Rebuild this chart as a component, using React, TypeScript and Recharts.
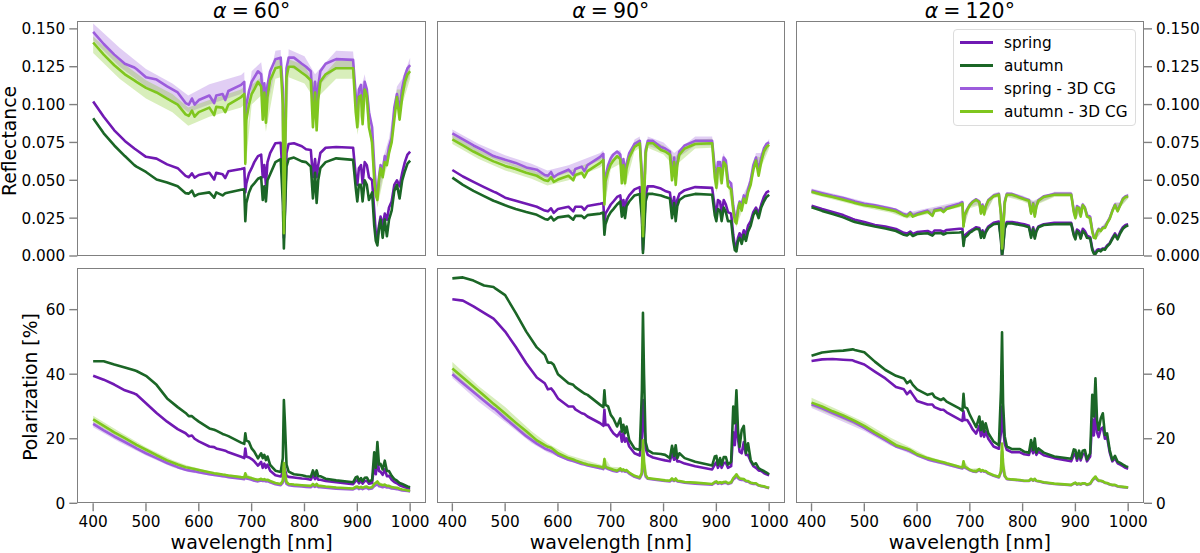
import React from "react";
import { ComposedChart, Line, Area, XAxis, YAxis, Legend } from "recharts";

const wavelengths = [
400,420,440,460,478,482,500,520,540,560,
575,581,587,592,600,620,629,633,645,650,
656,680,686,688,690,695,700,705,712,718,
721,724,727,730,735,745,755,759,761,763,
766,770,780,795,803,812,816,820,823,826,
830,840,860,892,897,900,903,907,910,914,
918,922,928,932,935,938,941,944,948,952,
956,960,965,970,975,980,985,990,995,1000];

const bandWavelengths = [400,450,500,550,580,620,680,686,688,700,718,727,745,755,761,770,800,820,860,892,900,914,924,932,938,950,960,975,985,1000];

// Reflectance, alpha = 60
const r60Spring = [
.102,.092,.083,.076,.071,.070,.0655,.0643,.0605,.058,
.0529,.052,.0546,.0518,.0535,.055,.0505,.055,.054,.0515,
.056,.0575,.058,.042,.048,.0546,.058,.062,.066,.067,
.052,.060,.047,.062,.068,.0745,.0748,.05,.012,.03,
.068,.074,.0745,.0725,.0705,.070,.052,.064,.052,.060,
.068,.0715,.072,.0715,.053,.047,.058,.06,.048,.062,
.06,.052,.05,.03,.015,.012,.02,.026,.02,.028,
.024,.032,.036,.047,.05,.046,.055,.062,.067,.069];
const r60Autumn = [
.091,.081,.073,.066,.060,.059,.0555,.0505,.0485,.046,
.0415,.0412,.0432,.0395,.041,.042,.0385,.042,.040,.0415,
.042,.0438,.044,.023,.035,.042,.046,.048,.051,.052,
.037,.046,.036,.05,.054,.062,.064,.035,.005,.028,
.059,.064,.065,.0625,.062,.059,.038,.055,.035,.05,
.058,.062,.0645,.0635,.045,.036,.047,.047,.036,.05,
.047,.037,.042,.02,.010,.007,.018,.024,.012,.024,
.013,.024,.03,.043,.047,.038,.05,.056,.061,.063];
const r60SpringCg = [
.148,.140,.133,.127,.1245,.1235,.118,.1165,.112,.108,
.101,.100,.104,.100,.103,.106,.101,.106,.107,.103,
.109,.113,.115,.085,.100,.109,.115,.118,.122,.120,
.106,.114,.100,.113,.122,.130,.131,.11,.03,.07,
.124,.131,.131,.127,.125,.122,.10,.115,.098,.112,
.122,.127,.130,.1295,.106,.096,.11,.113,.097,.115,
.11,.095,.085,.06,.045,.04,.052,.06,.056,.066,
.063,.072,.078,.098,.107,.096,.111,.119,.124,.126];
const r60AutumnCg = [
.141,.133,.126,.120,.116,.115,.111,.108,.104,.100,
.0935,.0925,.096,.092,.095,.098,.093,.0985,.098,.095,
.100,.105,.107,.061,.09,.100,.107,.110,.115,.112,
.09,.108,.088,.105,.116,.124,.125,.10,.015,.06,
.118,.125,.125,.121,.119,.116,.085,.108,.083,.103,
.115,.120,.124,.124,.095,.085,.105,.106,.087,.11,
.106,.085,.075,.05,.04,.037,.05,.058,.052,.062,
.06,.068,.075,.09,.105,.09,.105,.115,.120,.122];

// Reflectance, alpha = 90
const r90Spring = [
.0568,.0525,.0490,.0455,.0425,.042,.0385,.0365,.0345,.0325,
.030,.0295,.0315,.0285,.031,.0325,.0295,.0325,.0325,.0305,
.033,.0345,.035,.021,.028,.031,.034,.036,.039,.040,
.032,.037,.030,.037,.040,.044,.0455,.03,.004,.018,
.040,.046,.046,.0445,.043,.042,.031,.039,.030,.037,
.041,.0435,.0455,.045,.032,.028,.037,.036,.028,.037,
.034,.029,.028,.014,.007,.006,.012,.015,.012,.017,
.014,.02,.023,.029,.032,.028,.034,.039,.042,.043];
const r90Autumn = [
.0518,.047,.043,.0395,.0365,.036,.0335,.031,.029,.0272,
.0245,.024,.026,.0235,.0255,.0265,.024,.0265,.0265,.025,
.027,.028,.0287,.014,.021,.026,.029,.031,.034,.036,
.026,.032,.025,.033,.036,.040,.041,.025,.002,.014,
.036,.041,.041,.040,.039,.038,.025,.035,.023,.033,
.037,.0395,.041,.0405,.027,.023,.031,.03,.023,.032,
.029,.023,.023,.01,.004,.003,.01,.012,.008,.014,
.010,.016,.02,.027,.03,.025,.032,.036,.039,.0405];
const r90SpringCg = [
.081,.077,.073,.0695,.066,.0655,.0635,.0615,.0585,.057,
.0535,.053,.0555,.052,.054,.057,.0535,.0575,.059,.056,
.060,.0655,.0675,.038,.052,.060,.0645,.067,.069,.067,
.055,.064,.054,.061,.068,.074,.076,.055,.02,.04,
.070,.076,.076,.072,.071,.069,.055,.065,.052,.062,
.069,.073,.076,.076,.058,.050,.062,.062,.052,.065,
.063,.05,.048,.033,.026,.024,.032,.036,.034,.04,
.038,.044,.05,.06,.065,.057,.065,.071,.074,.075];
const r90AutumnCg = [
.077,.073,.069,.0655,.0625,.062,.0595,.0575,.055,.053,
.050,.0495,.052,.049,.0505,.053,.050,.0535,.055,.052,
.056,.0615,.0635,.034,.049,.056,.0605,.063,.066,.064,
.048,.060,.048,.058,.065,.072,.0745,.05,.013,.035,
.068,.0745,.0745,.070,.069,.067,.05,.062,.047,.06,
.067,.071,.074,.0745,.052,.045,.058,.058,.048,.062,
.06,.046,.044,.03,.023,.0215,.03,.035,.03,.038,
.035,.042,.047,.057,.063,.053,.062,.069,.072,.0735];

// Reflectance, alpha = 120
const r120Spring = [
.0332,.031,.029,.027,.0245,.024,.0225,.0205,.0195,.0178,
.0153,.0148,.0162,.0145,.0158,.0165,.015,.0168,.0168,.016,
.0172,.018,.018,.0085,.0135,.015,.0165,.0175,.019,.0185,
.0135,.017,.0135,.0165,.0195,.022,.0228,.012,.0005,.006,
.019,.0225,.0225,.0215,.021,.020,.0135,.019,.0125,.017,
.0195,.021,.022,.022,.0145,.012,.0175,.0165,.0125,.018,
.0165,.0135,.0125,.005,.0025,.002,.004,.0045,.004,.005,
.005,.007,.0085,.012,.015,.012,.016,.019,.0205,.021];
const r120Autumn = [
.0322,.0298,.0278,.0255,.023,.0225,.021,.0195,.0182,.0165,
.014,.0135,.015,.0132,.0145,.015,.0135,.015,.0152,.0142,
.0152,.0155,.0158,.0066,.012,.0135,.0155,.0165,.018,.0175,
.012,.016,.012,.0155,.0185,.021,.0215,.01,.0,.005,
.018,.0215,.0215,.0205,.02,.019,.012,.018,.0115,.016,
.019,.0205,.021,.0212,.0135,.011,.0165,.015,.0115,.0165,
.015,.012,.0115,.004,.0015,.0013,.003,.0038,.003,.0045,
.0042,.0062,.008,.0112,.014,.011,.015,.018,.0195,.0203];
const r120SpringCg = [
.0432,.0415,.0398,.0383,.0365,.036,.0345,.0335,.032,.0305,
.0275,.027,.029,.0268,.028,.030,.027,.0305,.0315,.030,
.032,.0345,.0355,.02,.027,.031,.034,.036,.0375,.036,
.029,.034,.0285,.033,.037,.040,.041,.028,.006,.017,
.036,.041,.041,.039,.038,.037,.029,.035,.027,.033,
.037,.0395,.041,.041,.03,.026,.033,.032,.027,.034,
.032,.027,.026,.017,.0125,.012,.016,.018,.017,.019,
.019,.022,.025,.03,.034,.03,.034,.038,.0395,.04];
const r120AutumnCg = [
.0424,.0405,.039,.0372,.0355,.035,.0335,.0325,.031,.0295,
.0268,.0262,.0282,.026,.0272,.0292,.0265,.0298,.0305,.029,
.031,.0335,.0345,.0194,.0265,.0305,.0335,.0355,.037,.0355,
.028,.033,.0275,.0325,.0365,.0395,.0405,.027,.005,.016,
.035,.0405,.0405,.0385,.0375,.0365,.028,.0345,.026,.0325,
.0365,.039,.0405,.0405,.029,.025,.032,.0315,.026,.0335,
.0315,.026,.025,.016,.012,.0117,.0155,.0175,.0165,.0185,
.0185,.0215,.0245,.0295,.0335,.0295,.0335,.0375,.039,.0392];

// Polarization, alpha = 60
const p60Spring = [
39.5,38.3,36.8,35,34,33.7,31,28,25.3,23,
21.7,20.8,21,20,19.2,17.6,17.4,17,16.5,16.3,
15.8,14.4,14,17,14.5,14.2,13.7,13,11.7,12.8,
11,12.3,11,12,10.1,8.7,8.3,9.5,12,10.5,
8.5,8.2,8,7.7,7.6,7.3,8.8,7.5,8.3,7.3,
7.3,6.9,6.5,5.9,6.9,7.2,6.2,6.9,6.1,6.9,
7,6.1,6.3,12,9,14,10,9.8,8.8,10.5,
8.4,8.5,7.3,6.6,6.2,5.6,5.3,5,4.6,4.5];
const p60Autumn = [
44,44,43,42.1,41.2,41,39.5,36.7,32.5,29.8,
28,27,27,26.3,25.3,23.2,22.8,22.5,21.5,21.2,
20.8,18.8,18.4,21.7,19.5,19,17,16,13.9,15.5,
14,15,13.4,14.5,11.9,10.1,9.7,14,32,25,
12,9.8,9,8.7,8.4,8.2,10.2,8.5,10.2,8.4,
8.4,7.6,7.1,6.5,8,8.3,6.9,7.8,6.8,7.9,
8,6.8,7.2,15.8,11,19,12,12.2,10.5,13.2,
10,10,8.5,7.5,7,6.3,6,5.6,5.2,5];
const p60SpringCg = [
24.6,22.6,20.7,19,17.4,17,15.5,14,12.5,11.2,
10.4,10.2,10,9.9,9.6,9,8.8,8.7,8.4,8.3,
8.1,7.6,7.5,8.7,7.7,7.5,7.3,7,6.8,7.1,
6.9,7,6.8,6.9,6.5,5.9,5.6,6.4,9,7.5,
6,5.6,5.4,5.2,5.1,5,5.5,5.1,5.5,5,
5,4.8,4.5,4.3,4.7,4.8,4.4,4.7,4.4,4.7,
4.8,4.4,4.6,5.3,5.6,5.9,5.3,5.2,5,5.2,
4.9,4.9,4.6,4.5,4.4,4.2,4,3.9,3.8,3.7];
const p60AutumnCg = [
26,24,22,20.2,18.5,18.1,16.6,14.9,13.3,12,
11.2,11,10.8,10.6,10.3,9.6,9.3,9.2,8.9,8.8,
8.6,8.1,8,9.3,8.2,8,7.8,7.5,7.2,7.6,
7.3,7.5,7.2,7.3,6.9,6.3,6,7,12.5,9.5,
6.6,6,5.8,5.6,5.5,5.4,6,5.5,6,5.4,
5.4,5.2,4.9,4.6,5.1,5.2,4.8,5.1,4.8,5.1,
5.2,4.8,5,6,6.3,6.8,6,5.8,5.6,5.8,
5.4,5.4,5,4.9,4.8,4.5,4.3,4.2,4,3.9];

// Polarization, alpha = 90
const p90Spring = [
63.2,62.8,61,59,57.2,56.5,53.2,48.5,43.4,39,
37.2,35.3,35.6,34.6,32.5,30,30,29.1,27.9,27.7,
26.9,24.8,24,29,24.3,24.3,22.9,21.7,20.7,22.2,
19.1,21.7,19.1,20.1,17.6,15.5,14.8,20.7,32,26,
17,15,14.2,13.6,13.3,13,15.5,13.5,14.8,13,
13,12.3,11.5,10.5,12,12.7,11,12.4,11,12.5,
12.6,11,11.5,22,18,26,20,16,15.5,19,
15,15,13,11.5,11,10.2,10,9.4,9,8.7];
const p90Autumn = [
69.7,70,69,67.5,67,66.5,64.5,59,53.2,48.3,
46,43.6,43.6,42.9,40,37.2,36.7,36,34.6,34,
33.6,30.5,29.8,35,30.5,30,27.4,26.3,23.8,26.3,
22.2,24.3,21.7,23.8,19.6,17,16.5,35,59,40,
19,16.5,15.5,15.3,15,14,17.8,14.7,18,14,
15.5,14,12.9,11.7,14.5,14.7,11.9,14,11.9,14.3,
14.3,12,12.9,30,24.8,35,22.7,17.5,22.7,24,
15.5,18.6,13.4,12,12.4,10.9,10.4,10,9.5,9];
const p90SpringCg = [
40,37.2,34.5,31.8,29.4,29,26.3,23.6,20.8,18.5,
17,16.6,16.2,15.8,14.9,13.5,13.1,12.9,12.2,12,
11.7,10.9,10.6,12.5,11,10.6,10.3,10,9.8,10.3,
9.9,10.1,9.8,10,9.2,8.2,7.7,9,15,11,
8.3,7.6,7.4,7.1,6.9,6.8,7.3,6.9,7.3,6.8,
6.7,6.4,6.1,5.8,6.3,6.5,6,6.3,6,6.3,
6.4,6,6.3,7.4,7.8,8.4,7.8,7.4,7.2,7.2,
6.8,6.7,6.2,6,6,5.5,5.3,5.1,4.9,4.7];
const p90AutumnCg = [
41.8,39,36.2,33.4,30.8,30.3,27.8,25,22.3,19.5,
18,17.5,17.2,16.6,15.5,14,13.6,13.3,12.6,12.3,
12,11.3,11,13.7,11.4,10.9,10.7,10.4,10.1,10.8,
10.2,10.5,10.1,10.3,9.5,8.5,8,9.5,19.5,13,
8.8,7.8,7.6,7.3,7.1,7,7.7,7.1,7.7,7,
6.9,6.6,6.4,6,6.6,6.8,6.3,6.5,6.3,6.6,
6.7,6.2,6.5,7.8,8.3,9,8.2,7.7,7.6,7.5,
7,6.9,6.4,6.2,6.2,5.6,5.4,5.3,5,4.8];

// Polarization, alpha = 120
const p120Spring = [
44.1,44.6,44.7,44.5,44.3,44,43,40.8,38.7,36,
35.3,33.8,34.8,33.6,31.7,30.6,30.6,29.8,29,29,
28.2,26,25.5,28.5,25.8,25.8,24.5,23,21.6,24,
20.8,22.8,20.6,22.3,20,17.6,16.9,22,30,24,
18.5,16.6,15.8,15.8,15.2,15,17.5,15.5,17.8,15,
16,14.9,14,13,15,15.4,13.2,15,13.3,15.2,
15.4,13,14.5,26,21,29,22,20.5,23,23.5,
20,20.5,15.8,13,14,12.4,12,11.5,11,10.7];
const p120Autumn = [
45.7,46.7,47.1,47.3,47.7,47.5,46.8,43.9,41.3,39.5,
38.7,37.2,38,36.7,35.3,33.6,34,33,32,32.5,
31.5,29.4,28.7,33.9,29.8,29.4,27.4,25.8,23.6,26.9,
22.7,25.3,22.2,24.8,21.7,19.1,18,35,53,31,
20.8,17.6,16.8,16.8,16,15.7,19.6,16.5,20.1,15.7,
17,15.7,14.5,13.8,16.7,16.5,13.9,16.3,14,16.3,
16.5,13.6,15.5,33.6,26.9,38.7,25.8,22.7,26.3,27.9,
21.2,21.7,16.5,13.4,14.7,12.9,12.5,12,11.5,11.2];
const p120SpringCg = [
30.7,29.4,28,26.6,25.3,25,23.4,21.4,19.6,17.6,
16.8,16.5,16.1,15.6,14.9,13.6,13.2,13,12.6,12.4,
12.1,11,10.8,12.3,11.1,10.7,10.2,9.9,9.7,10.3,
9.8,10.1,9.8,9.8,9.2,8.5,8,9.6,16,11,
8.4,7.5,7.3,7.1,6.9,6.9,7.4,7,7.4,6.9,
6.8,6.4,6,5.6,6.1,6.3,5.8,6,5.8,6.1,
6.1,5.7,6,7,7.5,8,7.3,6.9,6.9,6.7,
6.3,6.2,5.8,5.6,5.6,5.2,5.1,5,4.9,4.8];
const p120AutumnCg = [
31.2,30,28.5,27.2,25.8,25.5,24,22,20.1,18,
17.2,16.9,16.5,16,15.2,14,13.6,13.4,12.9,12.7,
12.4,11.3,11.1,13,11.4,10.9,10.4,10.1,9.9,10.6,
10,10.3,10,10,9.4,8.7,8.2,10,18.5,12,
8.6,7.6,7.4,7.2,7,7,7.6,7.1,7.6,7,
6.9,6.5,6.1,5.7,6.2,6.4,5.9,6.1,5.9,6.2,
6.2,5.8,6.1,7.2,7.8,8.3,7.5,7,7,6.8,
6.4,6.3,5.9,5.7,5.7,5.3,5.2,5.1,5,4.9];

// Spread of the 3D CG series, on bandWavelengths
const r60SpringHi = [.1535,.1375,.1235,.114,.106,.1135,.1195,.1215,.09,.122,.128,.106,.1355,.136,.04,.1365,.132,.12,.1355,.135,.101,.120,.098,.065,.045,.066,.078,.112,.117,.131];
const r60SpringLo = [.1425,.125,.112,.103,.095,.1,.107,.109,.08,.109,.114,.094,.124,.125,.025,.125,.120,.11,.124,.124,.091,.110,.088,.055,.035,.055,.066,.102,.105,.120];
const r60AutumnHi = [.145,.129,.116,.107,.098,.103,.11,.112,.066,.113,.118,.094,.129,.13,.02,.13,.126,.113,.129,.129,.09,.115,.088,.055,.042,.062,.073,.11,.11,.127];
const r60AutumnLo = [.134,.117,.104,.095,.086,.092,.098,.1,.056,.1,.106,.082,.117,.118,.01,.118,.114,.103,.117,.117,.08,.105,.078,.045,.032,.052,.063,.1,.1,.117];
const r90SpringHi = [.0835,.074,.0665,.061,.0565,.06,.068,.07,.041,.067,.07,.057,.077,.079,.023,.079,.075,.068,.079,.079,.053,.068,.053,.036,.027,.04,.047,.068,.068,.0775];
const r90SpringLo = [.078,.068,.061,.055,.051,.055,.063,.065,.036,.062,.065,.052,.072,.073,.018,.073,.069,.063,.073,.073,.047,.062,.047,.03,.022,.034,.042,.062,.062,.0725];
const r90AutumnHi = [.080,.070,.0625,.057,.0525,.056,.0645,.0665,.037,.0635,.067,.051,.075,.0775,.016,.0775,.073,.065,.077,.0775,.048,.065,.048,.033,.024,.037,.045,.066,.065,.076];
const r90AutumnLo = [.074,.064,.0565,.051,.0465,.05,.0585,.0605,.031,.0575,.061,.045,.069,.0715,.01,.0715,.067,.059,.071,.0715,.042,.059,.042,.027,.019,.031,.039,.06,.059,.071];
const r120SpringHi = [.0445,.0405,.036,.0325,.0285,.0315,.036,.037,.0212,.0355,.0375,.03,.0415,.0425,.0072,.0425,.040,.0365,.0425,.0425,.0275,.0355,.0285,.0185,.0132,.0195,.0235,.0355,.0355,.0415];
const r120SpringLo = [.0415,.0375,.033,.0295,.0255,.0285,.033,.034,.0188,.0325,.0345,.027,.0385,.0395,.0048,.0395,.037,.0335,.0395,.0395,.0245,.0325,.0255,.0155,.0108,.0165,.0205,.0325,.0325,.0385];
const r120AutumnHi = [.0438,.0395,.035,.0315,.0278,.0305,.035,.036,.0206,.0345,.0365,.029,.041,.042,.0062,.042,.0392,.0358,.042,.042,.0265,.035,.0275,.0175,.0128,.019,.023,.035,.035,.041];
const r120AutumnLo = [.041,.0365,.032,.0285,.0248,.0275,.032,.033,.018,.0315,.0335,.026,.038,.039,.0038,.039,.0362,.0328,.039,.039,.0235,.032,.0245,.0145,.0104,.016,.02,.032,.032,.038];
const p60SpringHi = [25.3,20.6,16.1,12.4,10.7,9.3,7.8,7.7,8.9,7.5,7.3,7,6.1,5.8,9.2,5.8,5.3,5.3,4.6,4.4,4.95,4.85,4.55,5.5,6.1,5.3,5.05,4.55,4.15,3.8];
const p60SpringLo = [23.6,18.9,14.8,11.2,9.7,8.6,7.3,7.2,8.4,7,6.8,6.5,5.7,5.4,8.7,5.4,4.9,4.9,4.3,4.1,4.6,4.5,4.2,5.1,5.7,4.9,4.7,4.2,3.85,3.5];
const p60AutumnHi = [27.1,22.2,17.4,13.4,11.6,9.9,8.4,8.3,9.6,8,7.8,7.4,6.5,6.2,12.8,6.2,5.7,5.7,5.1,4.8,5.4,5.3,5,6.2,7,5.9,5.6,5,4.5,4.1];
const p60AutumnLo = [25,20.3,15.9,12.2,10.6,9.3,7.9,7.8,9.1,7.6,7.4,7,6.1,5.8,12.2,5.8,5.3,5.3,4.7,4.4,5,4.9,4.6,5.8,6.6,5.5,5.2,4.6,4.1,3.7];
const p90SpringHi = [41,33.7,27.3,20.5,17,14,11.3,11,12.9,10.7,10.6,10.1,8.5,8,15.3,7.9,7.2,7.1,6.3,6,6.7,6.5,6.2,7.6,8.6,7.4,6.9,6.2,5.5,4.9];
const p90SpringLo = [38.8,31.5,25.2,18.7,15.8,13,10.5,10.2,12.1,9.9,10,9.5,7.9,7.4,14.7,7.3,6.8,6.7,5.9,5.6,6.3,6.1,5.8,7.2,8.2,7,6.5,5.8,5.1,4.5];
const p90AutumnHi = [43.8,36.3,29.8,22.3,18.6,15,12,11.7,14.4,11.3,11.2,10.5,8.9,8.4,19.8,8.1,7.4,7.3,6.6,6.2,7,6.8,6.4,8.1,9.3,7.7,7.1,6.4,5.6,5];
const p90AutumnLo = [40.3,33,26.6,19.8,16.8,13.3,10.7,10.5,13.1,10.2,10.3,9.7,8.2,7.7,19.2,7.5,7,6.9,6.2,5.8,6.6,6.4,6,7.5,8.7,7.3,6.7,6,5.2,4.6];
const p120SpringHi = [31.5,27.9,24,19.2,17,14.1,11.4,11.2,12.7,10.5,10.6,10.1,8.8,8.3,16.3,7.8,7.1,7.2,6.2,5.8,6.5,6.3,5.9,7.2,8.2,7,6.4,5.8,5.3,5];
const p120SpringLo = [29.5,26,22.4,17.8,15.8,13.1,10.6,10.4,11.9,9.9,10,9.5,8.2,7.7,15.7,7.2,6.7,6.8,5.8,5.4,6.1,5.9,5.5,6.8,7.8,6.6,6,5.4,4.9,4.6];
const p120AutumnHi = [32.7,29,25.2,20.3,17.9,14.6,11.7,11.5,13.4,10.7,10.9,10.3,9,8.5,18.8,7.9,7.2,7.3,6.3,5.9,6.6,6.4,6,7.4,8.5,7.1,6.5,5.9,5.4,5.1];
const p120AutumnLo = [30,26.6,23,18.3,16.2,13.4,10.9,10.7,12.6,10.1,10.3,9.7,8.4,7.9,18.2,7.3,6.8,6.9,5.9,5.5,6.2,6,5.6,7,8.1,6.7,6.1,5.5,5,4.7];

const seriesNames = ["spring", "autumn", "spring - 3D CG", "autumn - 3D CG"];
const seriesColors = ["#7019b3", "#1b6626", "#9c5cdc", "#7fc61e"];
const xTicks = [400, 500, 600, 700, 800, 900, 1000];
const reflectanceTicks = [0, 0.025, 0.05, 0.075, 0.1, 0.125, 0.15];
const polarizationTicks = [0, 20, 40, 60];
const FONT = "'DejaVu Sans', sans-serif";
const AXIS = "#808080";
const TEXT = "#000000";
const W = 1200, H = 553;

const columns = [
  { left: 77.3, right: 426, angle: "60" },
  { left: 436.5, right: 785, angle: "90" },
  { left: 795.7, right: 1144, angle: "120" },
];
const rows = [
  { top: 21.3, bottom: 256, domain: [0, 0.155], ticks: reflectanceTicks, fmt: (v: number) => v.toFixed(3) },
  { top: 267.7, bottom: 503.3, domain: [0, 73], ticks: polarizationTicks, fmt: (v: number) => String(v) },
];
const lineData = [
  [[r60Spring, r60Autumn, r60SpringCg, r60AutumnCg], [r90Spring, r90Autumn, r90SpringCg, r90AutumnCg], [r120Spring, r120Autumn, r120SpringCg, r120AutumnCg]],
  [[p60Spring, p60Autumn, p60SpringCg, p60AutumnCg], [p90Spring, p90Autumn, p90SpringCg, p90AutumnCg], [p120Spring, p120Autumn, p120SpringCg, p120AutumnCg]],
];
const bandData = [
  [[r60SpringLo, r60SpringHi, r60AutumnLo, r60AutumnHi], [r90SpringLo, r90SpringHi, r90AutumnLo, r90AutumnHi], [r120SpringLo, r120SpringHi, r120AutumnLo, r120AutumnHi]],
  [[p60SpringLo, p60SpringHi, p60AutumnLo, p60AutumnHi], [p90SpringLo, p90SpringHi, p90AutumnLo, p90AutumnHi], [p120SpringLo, p120SpringHi, p120AutumnLo, p120AutumnHi]],
];

function LegendBox({ payload }: any) {
  return (
    <div style={{ width: "100%", height: "100%", boxSizing: "border-box", background: "rgba(255,255,255,0.85)", border: "1px solid #dcdcdc", borderRadius: 4, fontFamily: FONT, fontSize: 15.3, color: TEXT, position: "relative" }}>
      {(payload || []).map((p: any, i: number) => (
        <div key={p.value} style={{ position: "absolute", left: 5.5, top: 1.5 + i * 23, height: 23, display: "flex", alignItems: "center", whiteSpace: "nowrap" }}>
          <span style={{ display: "inline-block", width: 33, height: 2.6, background: p.color, marginRight: 11.5 }} />
          <span>{p.value}</span>
        </div>
      ))}
    </div>
  );
}

function Panel({ r, c }: { r: number; c: number }) {
  const row = rows[r], col = columns[c];
  const lines = lineData[r][c], bands = bandData[r][c];
  const table = wavelengths.map((wl, i) => ({ wl, s0: lines[0][i], s1: lines[1][i], s2: lines[2][i], s3: lines[3][i] }));
  const bandTable = bandWavelengths.map((wl, i) => ({ wl, b0: [bands[0][i], bands[1][i]], b1: [bands[2][i], bands[3][i]] }));
  const box = { top: row.top, left: col.left, right: W - col.right, bottom: H - row.bottom };
  const layer: React.CSSProperties = { position: "absolute", left: 0, top: 0, pointerEvents: "none" };
  const showLeft = c === 0, showRight = c === 2, showX = r === 1;
  const axisW = 50, axisH = 30;
  const margin = {
    top: box.top,
    left: showLeft ? box.left - axisW : box.left,
    right: showRight ? box.right - axisW : box.right,
    bottom: showX ? box.bottom - axisH : box.bottom,
  };
  const tickStyle = { fill: TEXT, fontSize: 15.3, fontFamily: FONT };
  const tickLine = { stroke: AXIS, strokeWidth: 1.4 };
  return (
    <>
      <div style={layer}>
        <ComposedChart width={W} height={H} data={bandTable} margin={box}>
          <XAxis dataKey="wl" type="number" domain={[370, 1030]} hide allowDataOverflow />
          <YAxis type="number" domain={row.domain} hide allowDataOverflow />
          <Area dataKey="b0" stroke="none" fill={seriesColors[2]} fillOpacity={0.3} isAnimationActive={false} dot={false} activeDot={false} />
          <Area dataKey="b1" stroke="none" fill={seriesColors[3]} fillOpacity={0.3} isAnimationActive={false} dot={false} activeDot={false} />
        </ComposedChart>
      </div>
      <div style={layer}>
        <ComposedChart width={W} height={H} data={table} margin={margin}>
          <XAxis dataKey="wl" type="number" domain={[370, 1030]} ticks={xTicks} interval={0} allowDataOverflow
            hide={!showX} height={axisH} axisLine={false} tickLine={tickLine} tickSize={8} tickMargin={5} tick={tickStyle} />
          <YAxis type="number" domain={row.domain} ticks={row.ticks} interval={0} allowDataOverflow
            hide={!showLeft && !showRight} orientation={showRight ? "right" : "left"} width={axisW} tickFormatter={row.fmt}
            axisLine={false} tickLine={tickLine} tickSize={8} tickMargin={4} tick={tickStyle} />
          {seriesNames.map((name, i) => (
            <Line key={name} dataKey={`s${i}`} name={name} stroke={seriesColors[i]} strokeWidth={2.6} dot={false} activeDot={false} strokeLinejoin="round" isAnimationActive={false} />
          ))}
          {r === 0 && c === 2 ? (
            <Legend layout="vertical" align="center" verticalAlign="middle" itemSorter={null} content={<LegendBox />}
              wrapperStyle={{ left: 953, top: 28.5, width: 183, height: 97 }} />
          ) : null}
        </ComposedChart>
      </div>
      <div style={{ position: "absolute", left: col.left, top: row.top, width: col.right - col.left, height: row.bottom - row.top, boxSizing: "border-box", border: `1.4px solid ${AXIS}`, pointerEvents: "none" }} />
    </>
  );
}

const labelBase: React.CSSProperties = { position: "absolute", fontFamily: FONT, color: TEXT, whiteSpace: "nowrap", transform: "translate(-50%,-50%)", lineHeight: 1 };

export default function App() {
  return (
    <div style={{ position: "absolute", left: 0, top: 0, width: W, height: H, background: "#fff", overflow: "hidden" }}>
      {rows.map((_, r) => columns.map((_, c) => <Panel key={`${r}-${c}`} r={r} c={c} />))}
      {columns.map((col) => (
        <React.Fragment key={col.angle}>
          <div style={{ ...labelBase, left: (col.left + col.right) / 2, top: 10.5, fontSize: 20.5, wordSpacing: -1.5 }}>
            <i>α</i> = {col.angle}°
          </div>
          <div style={{ ...labelBase, left: (col.left + col.right) / 2, top: 541.5, fontSize: 19 }}>wavelength [nm]</div>
        </React.Fragment>
      ))}
      <div style={{ ...labelBase, left: 10, top: 141, fontSize: 18.8, transform: "translate(-50%,-50%) rotate(-90deg)" }}>Reflectance</div>
      <div style={{ ...labelBase, left: 31, top: 387, fontSize: 18.8, transform: "translate(-50%,-50%) rotate(-90deg)" }}>Polarization [%]</div>
    </div>
  );
}
